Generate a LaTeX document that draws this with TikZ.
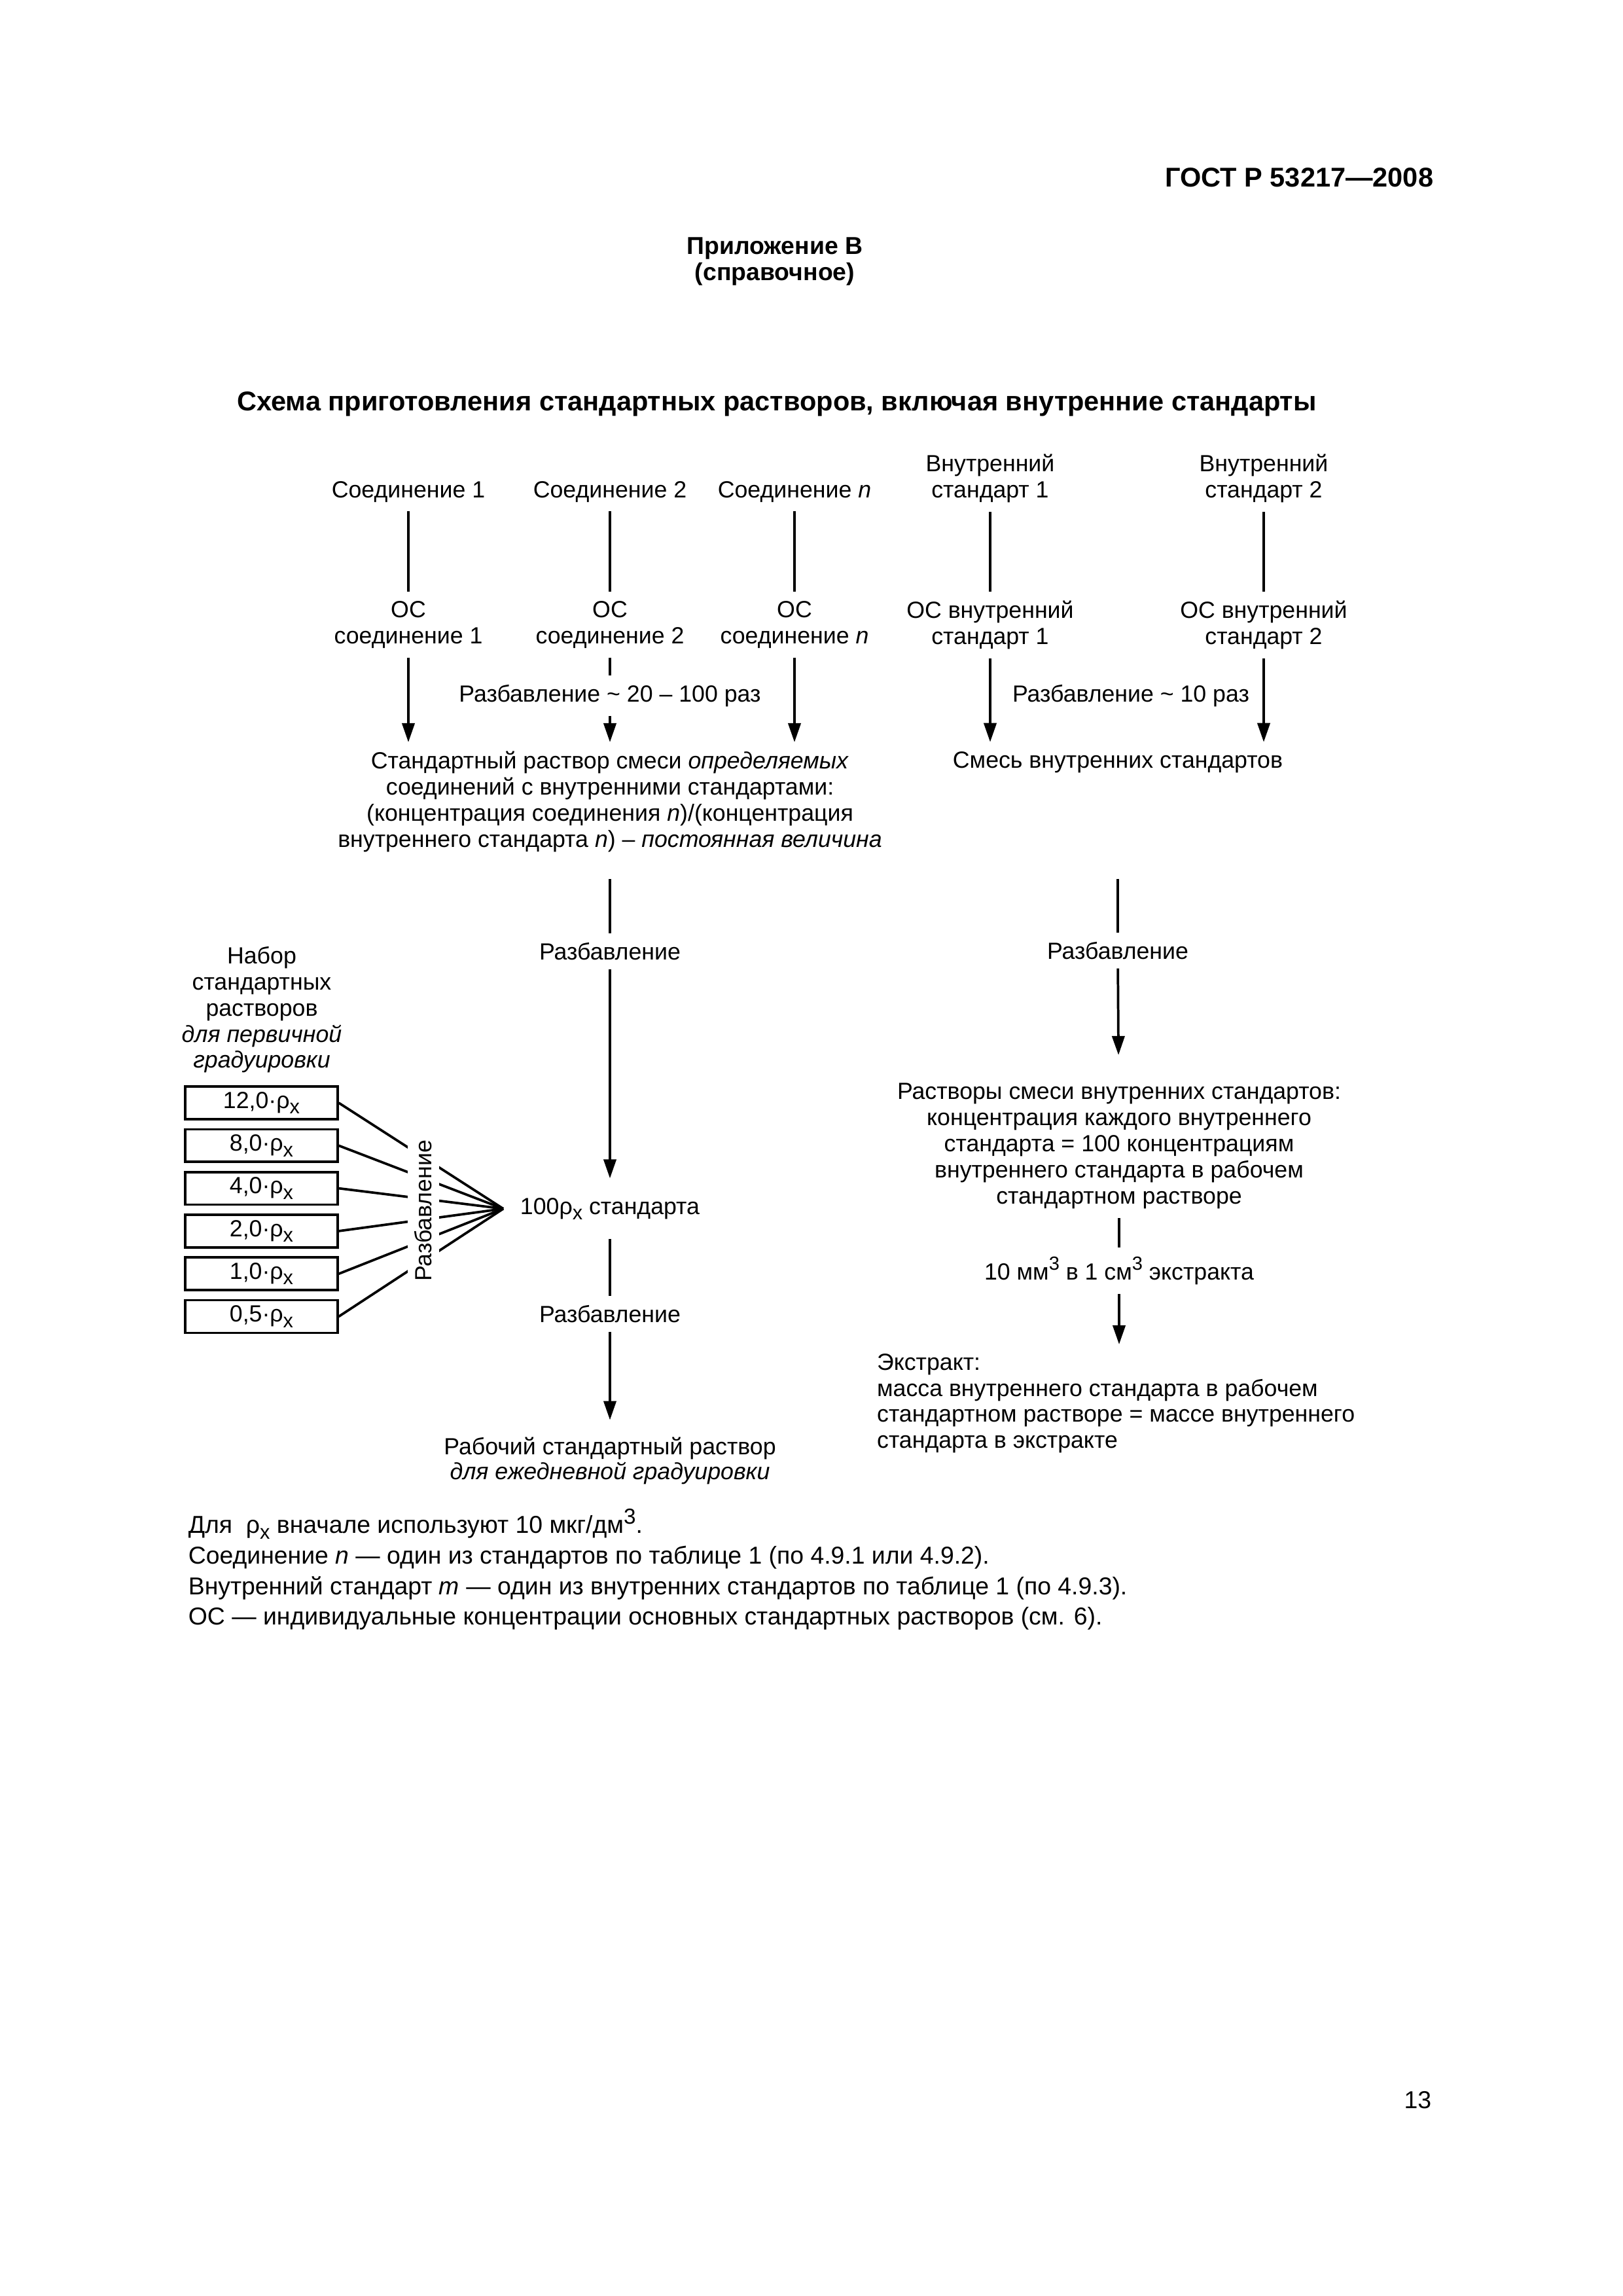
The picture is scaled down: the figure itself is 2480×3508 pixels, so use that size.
\documentclass[tikz,border=0pt]{standalone}
\usepackage{fontspec}
\setmainfont{Liberation Sans}
\usetikzlibrary{arrows.meta}
\usetikzlibrary{calc}

\newcommand{\flowsize}{\fontsize{8.6}{9.6}\selectfont}
\newcommand{\rhox}{ρ\raisebox{-0.45ex}{\fontsize{7.4}{8}\selectfont x}}
\newcommand{\cube}{\raisebox{0.75ex}{\fontsize{7}{8}\selectfont 3}}

\begin{document}
\begin{tikzpicture}[x=0.084677mm, y=-0.084677mm, line width=0.9pt, >={Triangle[length=7pt,width=4.6pt]}]
	\tikzstyle{flow}=[font=\flowsize, align=center, inner xsep=2pt, inner ysep=3pt]
	\tikzstyle{dose}=[draw, font=\flowsize, minimum width=56pt, minimum height=12pt, inner sep=0pt]
	\tikzstyle{hdr}=[font=\bfseries\fontsize{10}{12}\selectfont, inner sep=0pt]
	\tikzstyle{remark}=[font=\fontsize{9}{11.25}\selectfont, align=left, inner sep=0pt]

	\fill[white] (0,0) rectangle (2480,3508);
	\useasboundingbox (0,0) rectangle (2480,3508);

	% page head
	\node[hdr, anchor=base east] (gost) at (2192,285) {ГОСТ Р 53217—2008};
	\node[hdr, font=\bfseries\fontsize{9}{11}\selectfont, anchor=base] (app) at (1184,388) {Приложение В};
	\node[hdr, font=\bfseries\fontsize{9}{11}\selectfont, anchor=base] (appsub) at (1184,428) {(справочное)};
	\node[hdr, anchor=base] (ttl) at (1187,627) {Схема приготовления стандартных растворов, включая внутренние стандарты};

	% compounds and internal standards
	\node[flow, anchor=base] (s1) at (624,760) {Соединение 1};
	\node[flow, anchor=base] (s2) at (932,760) {Соединение 2};
	\node[flow, anchor=base] (sn) at (1214,760) {Соединение \textit{n}};
	\node[flow, anchor=north] (is1) at (1513,680) {Внутренний\\стандарт 1};
	\node[flow, anchor=north] (is2) at (1931,680) {Внутренний\\стандарт 2};

	\node[flow, anchor=north] (os1) at (624,904) {ОС\\соединение 1};
	\node[flow, anchor=north] (os2) at (932,904) {ОС\\соединение 2};
	\node[flow, anchor=north] (osn) at (1214,904) {ОС\\соединение \textit{n}};
	\node[flow, anchor=north] (osi1) at (1513,904) {ОС внутренний\\стандарт 1};
	\node[flow, anchor=north] (osi2) at (1931,904) {ОС внутренний\\стандарт 2};

	\draw (s1) -- (os1);
	\draw (s2) -- (os2);
	\draw (sn) -- (osn);
	\draw (is1) -- (osi1);
	\draw (is2) -- (osi2);

	\node[flow, anchor=base] (dil2) at (932,1072) {Разбавление \textasciitilde{} 20 – 100 раз};
	\node[flow, anchor=base] (dil10) at (1728,1072) {Разбавление \textasciitilde{} 10 раз};

	\node[flow, anchor=north] (mix) at (932,1134) {Стандартный раствор смеси \textit{определяемых}\\соединений с внутренними стандартами:\\(концентрация соединения \textit{n})/(концентрация\\внутреннего стандарта \textit{n}) – \textit{постоянная величина}};
	\node[flow, anchor=base] (smes) at (1708,1173) {Смесь внутренних стандартов};

	\draw[->] (os1) -- (os1 |- mix.north);
	\draw (os2) -- (dil2);
	\draw[->] (dil2) -- (mix);
	\draw[->] (osn) -- (osn |- mix.north);
	\draw[->] (osi1) -- (osi1 |- smes.north);
	\draw[->] (osi2) -- (osi2 |- smes.north);

	% dilution of the mixture
	\node[flow, anchor=base] (dilA) at (932,1466) {Разбавление};
	\node[flow, anchor=base, inner xsep=5.8pt, inner ysep=6.7pt] (std) at (932,1855) {100\rhox{} стандарта};
	\node[flow, anchor=base] (dilB) at (932,2020) {Разбавление};
	\node[flow, anchor=north, font=\fontsize{8.6}{9}\selectfont] (work) at (932,2182) {Рабочий стандартный раствор\\\textit{для ежедневной градуировки}};

	\draw[shorten <=6.5pt] (mix) -- (dilA);
	\draw[->] (dilA) -- (std);
	\draw (std) -- (dilB);
	\draw[->, shorten >=3pt] (dilB) -- (work);

	% set for primary calibration
	\node[flow, anchor=north] (set) at (400,1432) {Набор\\стандартных\\растворов\\\textit{для первичной}\\\textit{градуировки}};
	\foreach \v [count=\i] in {{12,0},{8,0},{4,0},{2,0},{1,0},{0,5}}
		\node[dose] (b\i) at (399.5,{1685+65.3*(\i-1)}) {\v·\rhox};
	\foreach \i in {1,...,6}
		\draw (b\i.east) -- (std.west);
	\node[font=\flowsize, rotate=90, fill=white, inner xsep=1pt, inner ysep=2.6pt] (dilC) at (647,1850) {Разбавление};

	% internal standards branch
	\node[flow, anchor=base] (dilR) at (1708,1465) {Разбавление};
	\node[flow, anchor=north] (mixR) at (1710,1641) {Растворы смеси внутренних стандартов:\\концентрация каждого внутреннего\\стандарта = 100 концентрациям\\внутреннего стандарта в рабочем\\стандартном растворе};
	\node[flow, anchor=base] (vol) at (1710,1955) {10 мм\cube{} в 1 см\cube{} экстракта};
	\node[flow, anchor=north west, align=left] (ext) at (1330,2054) {Экстракт:\\масса внутреннего стандарта в рабочем\\стандартном растворе = массе внутреннего\\стандарта в экстракте};

	\draw[shorten <=35.6pt] (smes) -- (dilR);
	\draw[->, shorten >=7pt] (dilR) -- (mixR);
	\draw (mixR) -- (vol);
	\draw[->] (vol) -- (vol |- ext.north);

	% notes
	\node[remark, anchor=north west] (notes) at (286,2303) {Для~~\rhox{} вначале используют 10 мкг/дм\raisebox{0.75ex}{\fontsize{8}{9}\selectfont 3}.\\Соединение \textit{n} — один из стандартов по таблице 1 (по 4.9.1 или 4.9.2).\\Внутренний стандарт \textit{m} — один из внутренних стандартов по таблице 1 (по 4.9.3).\\ОС — индивидуальные концентрации основных стандартных растворов (см. 6).};

	\node[remark, anchor=base east] (page) at (2189,3221) {13};
\end{tikzpicture}
\end{document}
